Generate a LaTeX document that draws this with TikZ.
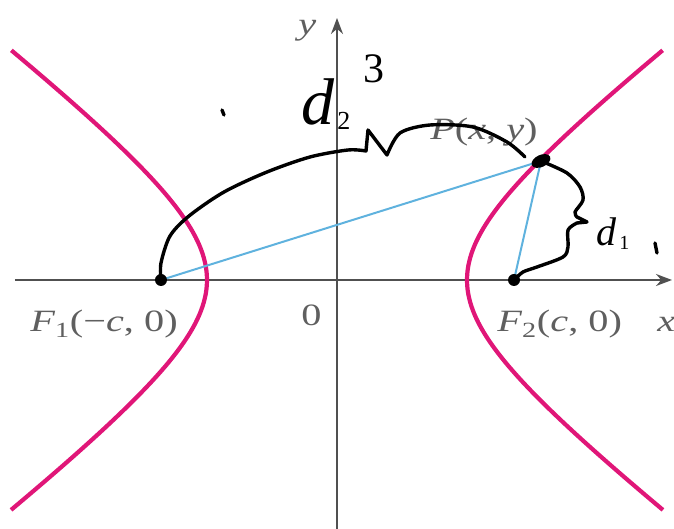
\documentclass[tikz,border=0pt]{standalone}
\usepackage{fontspec}
\setmainfont{Liberation Serif}
\usetikzlibrary{arrows.meta,shapes.geometric}
\definecolor{hypmag}{RGB}{224,22,120}
\definecolor{segblue}{RGB}{95,178,222}
\definecolor{axgray}{RGB}{80,80,80}
\definecolor{labgray}{RGB}{95,95,95}

\begin{document}
\begin{tikzpicture}[x=1pt,y=1pt,
  axis/.style={draw=axgray, line width=1.9pt, -{Stealth[length=16pt,width=12pt]}},
  hyp/.style={draw=hypmag, line width=4.2pt},
  seg/.style={draw=segblue, line width=2pt},
  ink/.style={draw=black, line width=3.4pt, line cap=round, line join=round},
  lab/.style={text=labgray, font=\fontsize{31}{33}\selectfont, inner sep=0pt, xscale=1.3, transform shape},
  hand/.style={text=black, inner sep=0pt},
  focus/.style={circle, fill=black, inner sep=0pt, minimum size=12pt}
]
\useasboundingbox (-337,-249) rectangle (337,280);
% axes
\coordinate (xl) at (-322,0);
\coordinate (xr) at (335,0);
\coordinate (yb) at (0,-249);
\coordinate (yt) at (0,262);
\draw[axis] (xl) -- (xr);
\draw[axis] (yb) -- (yt);
% the two branches
\draw[hyp] plot[domain=-1.57:1.57, samples=80, variable=\t] ({130*cosh(\t)},{100*sinh(\t)});
\draw[hyp] plot[domain=-1.57:1.57, samples=80, variable=\t] ({-130*cosh(\t)},{100*sinh(\t)});
% foci and point
\coordinate (F1c) at (-176,0);
\coordinate (F2c) at (177,0);
\coordinate (Pc) at (204,119);
\draw[seg] (F1c) -- (Pc);
\draw[seg] (F2c) -- (Pc);
\node[focus] (F1) at (F1c) {};
\node[focus] (F2) at (F2c) {};
\node[ellipse, fill=black, inner sep=0pt, minimum width=20pt, minimum height=12pt, rotate=25] (P) at (Pc) {};
% labels
\node[lab, anchor=base west] (ylab) at (-39,245) {\textit{y}};
\node[lab, anchor=base west] (xlab) at (320,-52) {\textit{x}};
\node[lab, anchor=base west] (olab) at (-36,-46) {0};
\node[lab, anchor=base west] (F1lab) at (-307,-52) {\textit{F}\textsubscript{1}(−\textit{c}, 0)};
\node[lab, anchor=base west] (F2lab) at (160,-52) {\textit{F}\textsubscript{2}(\textit{c}, 0)};
\node[lab, anchor=base west] (Plab) at (93,140) {\textit{P}(\textit{x}, \textit{y})};
% handwritten braces
\draw[ink] plot[smooth, tension=0.5] coordinates {(F1c) (-176,17) (-167,44) (-148,64) (-113,88) (-70,108) (-27,123) (11,130) (29,129)}
  -- (31,150) -- (50,125)
  -- plot[smooth, tension=0.5] coordinates {(50,125) (63,147) (93,155) (136,153) (170,138) (188,123)};
\draw[ink] plot[smooth, tension=0.5] coordinates {(Pc) (230,107) (243,93) (246,80) (238,68) (240,63)}
  -- (250,58) -- (240,57)
  -- plot[smooth, tension=0.5] coordinates {(240,57) (231,50) (231,33) (226,23) (200,13) (186,8) (F2c)};
\node[hand, anchor=base west] (d2) at (-36,155) {\fontsize{66}{66}\selectfont\textit{d}\kern3pt\raisebox{-5pt}{\fontsize{26}{26}\selectfont 2}};
\node[hand] (three) at (37,211) {\fontsize{42}{42}\selectfont 3};
\node[hand, anchor=base west] (d1) at (259,34) {\fontsize{40}{40}\selectfont\textit{d}\kern3pt\raisebox{-4pt}{\fontsize{20}{20}\selectfont 1}};
% stray pen marks
\coordinate (m1a) at (-115,170);
\coordinate (m1b) at (-113,165);
\coordinate (m2a) at (318,37);
\coordinate (m2b) at (320,27);
\draw[ink] (m1a) -- (m1b);
\draw[ink] (m2a) -- (m2b);
\end{tikzpicture}
\end{document}
